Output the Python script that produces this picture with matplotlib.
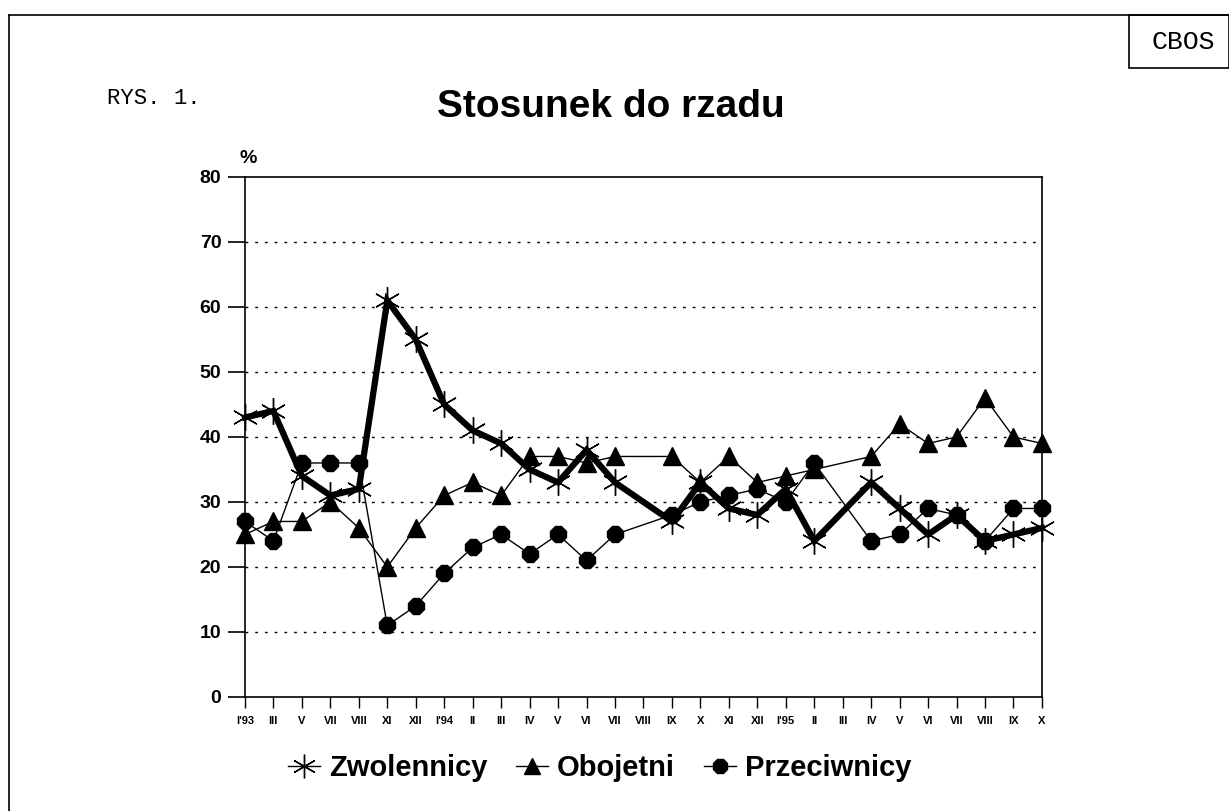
import numpy as np
import matplotlib.pyplot as plt
from matplotlib.lines import Line2D
from matplotlib.patches import Rectangle

# miesiace (VIII'94 i III'95 bez pomiaru -> None)
months = ["I'93", "III", "V", "VII", "VIII", "XI", "XII", "I'94", "II", "III",
          "IV", "V", "VI", "VII", "VIII", "IX", "X", "XI", "XII", "I'95",
          "II", "III", "IV", "V", "VI", "VII", "VIII", "IX", "X"]

zwolennicy = [43, 44, 34, 31, 32, 61, 55, 45, 41, 39, 35, 33, 38, 33, None,
              27, 33, 29, 28, 32, 24, None, 33, 29, 25, 28, 24, 25, 26]
obojetni = [25, 27, 27, 30, 26, 20, 26, 31, 33, 31, 37, 37, 36, 37, None,
            37, 33, 37, 33, 34, 35, None, 37, 42, 39, 40, 46, 40, 39]
przeciwnicy = [27, 24, 36, 36, 36, 11, 14, 19, 23, 25, 22, 25, 21, 25, None,
               28, 30, 31, 32, 30, 36, None, 24, 25, 29, 28, 24, 29, 29]

yticks = [0, 10, 20, 30, 40, 50, 60, 70, 80]

plt.rcParams['font.family'] = ['Liberation Sans', 'DejaVu Sans']

fig = plt.figure(figsize=(12.29, 8.11), dpi=100)
ax = fig.add_axes([0.1993, 0.1406, 0.6485, 0.6412])


def valid(vals):
    xs = [i for i, v in enumerate(vals) if v is not None]
    ys = [v for v in vals if v is not None]
    return xs, ys


star = (6, 2, 0)

x, y = valid(obojetni)
ax.plot(x, y, color='black', lw=1.0, marker='^', ms=13, zorder=3, clip_on=False)
x, y = valid(przeciwnicy)
ax.plot(x, y, color='black', lw=1.0, marker='8', ms=13, zorder=3, clip_on=False)
x, y = valid(zwolennicy)
ax.plot(x, y, color='black', lw=4.5, marker=star, ms=19, mew=1.0, zorder=4,
        solid_joinstyle='miter', clip_on=False)

ax.set_xlim(0, len(months) - 1)
ax.set_ylim(0, 80)
ax.set_xticks(range(len(months)))
ax.set_xticklabels(months, fontsize=8, fontweight='heavy')
ax.set_yticks(yticks)
ax.set_yticklabels([str(t) for t in yticks], fontsize=14, fontweight='bold')
ax.tick_params(axis='y', length=12, width=1.2, pad=5, direction='out')
ax.tick_params(axis='x', length=8, width=1.0, pad=6, direction='out')
for s in ax.spines.values():
    s.set_linewidth(1.2)

for t in yticks[1:-1]:
    ax.axhline(t, color='black', lw=1.0, ls=(0, (2, 5)), zorder=1)

ax.text(0.1, 81.5, '%', fontsize=14, fontweight='bold', ha='center', va='bottom')

fig.text(0.497, 0.868, 'Stosunek do rzadu', fontsize=28, fontweight='bold',
         ha='center', va='center')
fig.text(0.087, 0.878, 'RYS. 1.', fontsize=16, family='Liberation Mono',
         ha='left', va='center')

# ramka strony i pole CBOS
fig.add_artist(Line2D([9 / 1229, 9 / 1229], [0, 1 - 15 / 811], transform=fig.transFigure,
                      color='black', lw=1.2))
fig.add_artist(Line2D([9 / 1229, 1], [1 - 15 / 811, 1 - 15 / 811], transform=fig.transFigure,
                      color='black', lw=1.2))
fig.add_artist(Rectangle((1129 / 1229, 1 - 68 / 811), 100 / 1229, 53 / 811,
                         transform=fig.transFigure, fill=False, ec='black', lw=1.2))
fig.text(1183 / 1229, 1 - 42 / 811, 'CBOS', fontsize=19, family='Liberation Mono',
         ha='center', va='center')

handles = [
    Line2D([], [], color='black', lw=1.0, marker=star, ms=17, mew=1.0),
    Line2D([], [], color='black', lw=1.0, marker='^', ms=11),
    Line2D([], [], color='black', lw=1.0, marker='8', ms=11),
]
fig.legend(handles, ['Zwolennicy', 'Obojetni', 'Przeciwnicy'], loc='center',
           bbox_to_anchor=(0.488, 0.053), ncol=3, frameon=False,
           prop={'size': 21, 'weight': 'bold'}, handlelength=1.1,
           handletextpad=0.3, columnspacing=1.0)

fig.savefig('out.png', dpi=100)
